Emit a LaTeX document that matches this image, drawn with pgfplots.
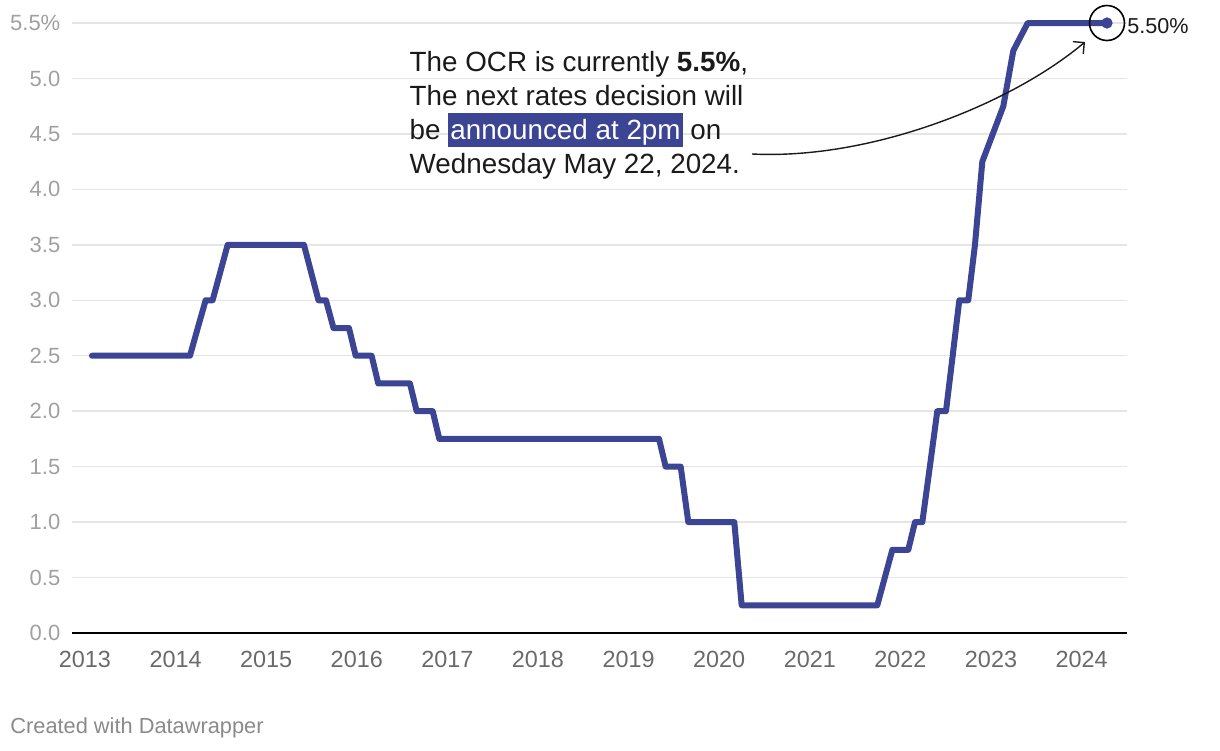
\documentclass[border=0pt]{standalone}
\usepackage{fontspec}
\setmainfont{Liberation Sans}
\usepackage{pgfplots}
\pgfplotsset{compat=1.18}
\usetikzlibrary{arrows.meta}
\definecolor{ocrblue}{HTML}{3C4494}
\definecolor{gridgray}{HTML}{E5E5E5}
\definecolor{ylab}{HTML}{A0A0A0}
\definecolor{xlab}{HTML}{6A6A6A}
\definecolor{foot}{HTML}{8A8A8A}
\definecolor{txt}{HTML}{1A1A1A}
\begin{document}
\begin{tikzpicture}
\useasboundingbox (0,0) rectangle (610pt,375pt);
\begin{axis}[
  at={(36pt,58.5pt)}, anchor=south west,
  scale only axis, width=527.5pt, height=305pt,
  xmin=2012.857, xmax=2024.501, ymin=0, ymax=5.5,
  clip=false,
  axis x line=bottom, axis y line=left,
  x axis line style={-, black, line width=1pt},
  y axis line style={draw=none},
  major tick length=0pt,
  xtick={2013,2014,2015,2016,2017,2018,2019,2020,2021,2022,2023,2024},
  xticklabels={2013,2014,2015,2016,2017,2018,2019,2020,2021,2022,2023,2024},
  ytick={0,0.5,1,1.5,2,2.5,3,3.5,4,4.5,5,5.5},
  yticklabels={0.0,0.5,1.0,1.5,2.0,2.5,3.0,3.5,4.0,4.5,5.0,5.5\%},
  ymajorgrids,
  grid style={gridgray, line width=0.75pt},
  yticklabel style={anchor=east, inner sep=0pt, xshift=-5.65pt, font=\fontsize{11}{13}\selectfont, text=ylab},
  xticklabel style={anchor=north, inner sep=0pt, yshift=-9pt, font=\fontsize{11.7}{13}\selectfont, text=xlab},
]
\addplot[ocrblue, line width=3pt, line join=round, line cap=round] coordinates {
(2013.077,2.5) (2014.159,2.5) (2014.245,2.75) (2014.332,3.0) (2014.409,3.0)
(2014.492,3.25) (2014.575,3.5) (2015.417,3.5) (2015.497,3.25) (2015.577,3.0)
(2015.660,3.0) (2015.743,2.75) (2015.914,2.75) (2015.988,2.5) (2016.164,2.5)
(2016.237,2.25) (2016.587,2.25) (2016.661,2.0) (2016.838,2.0) (2016.911,1.75)
(2019.336,1.75) (2019.409,1.5) (2019.575,1.5) (2019.659,1.0) (2020.167,1.0)
(2020.248,0.25) (2021.745,0.25) (2021.828,0.5) (2021.911,0.75) (2022.087,0.75)
(2022.161,1.0) (2022.242,1.0) (2022.325,1.5) (2022.407,2.0) (2022.503,2.0)
(2022.577,2.5) (2022.650,3.0) (2022.749,3.0) (2022.823,3.5) (2022.904,4.25)
(2023.136,4.75) (2023.246,5.25) (2023.405,5.5) (2024.28,5.5)
};
\addplot[only marks, mark=*, mark size=2.6pt, ocrblue] coordinates {(2024.28,5.5)};
\addplot[only marks, mark=o, mark size=8.75pt, black, mark options={line width=0.8pt}] coordinates {(2024.28,5.5)};
\node[anchor=west, inner sep=0pt, xshift=10pt, yshift=-1.5pt, font=\fontsize{10.8}{12}\selectfont, text=txt] at (axis cs:2024.28,5.5) {5.50\%};
\end{axis}
% annotation
\begin{scope}[font=\fontsize{13.9}{16}\selectfont, text=txt]
\node[anchor=base west, inner sep=0pt] at (204.65pt,339.25pt) {The OCR is currently \textbf{5.5\%},};
\node[anchor=base west, inner sep=0pt] at (204.65pt,322.25pt) {The next rates decision will};
\node[anchor=base west, inner sep=0pt] at (204.65pt,305.25pt) {be {\setlength{\fboxsep}{1pt}\colorbox{ocrblue}{\rule[-1.85pt]{0pt}{13.85pt}\textcolor{white}{announced at 2pm}}} on};
\node[anchor=base west, inner sep=0pt] at (204.65pt,288.25pt) {Wednesday May 22, 2024.};
\end{scope}
\draw[line width=0.7pt, txt, -{Straight Barb[length=4pt, width=8pt]}] (376pt,298pt) .. controls (435pt,295pt) and (505pt,322.5pt) .. (542.5pt,354pt);
\node[anchor=base west, inner sep=0pt, font=\fontsize{10.9}{12}\selectfont, text=foot] at (5pt,8.5pt) {Created with Datawrapper};
\end{tikzpicture}
\end{document}
